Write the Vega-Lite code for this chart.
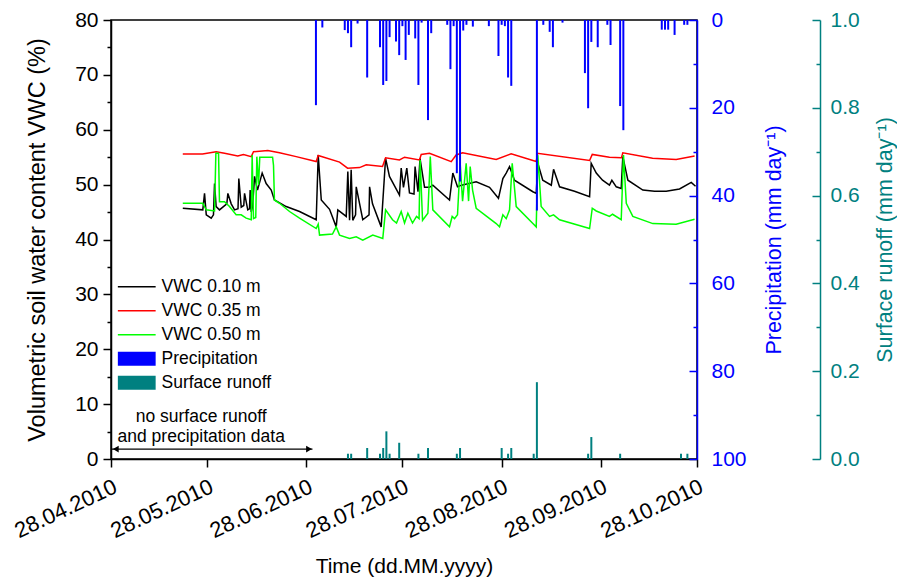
{
  "$schema": "https://vega.github.io/schema/vega-lite/v6.json",
  "width": 586,
  "height": 439,
  "autosize": {"type": "none"},
  "padding": {"left": 111, "top": 20, "right": 200, "bottom": 122},
  "background": "white",
  "config": {
    "font": "Liberation Sans",
    "view": {"stroke": "black", "strokeWidth": 1.5},
    "axis": {
      "grid": false,
      "labelFont": "Liberation Sans",
      "titleFont": "Liberation Sans",
      "labelFontSize": 21,
      "titleFontSize": 22,
      "titleFontWeight": "normal",
      "domainWidth": 1.5,
      "tickWidth": 1.5,
      "domainColor": "black",
      "tickColor": "black",
      "labelColor": "black",
      "titleColor": "black"
    }
  },
  "datasets": {
    "vwc": [
      {"t": "2010-05-20T10:00Z", "s": "VWC 0.10 m", "v": 45.7},
      {"t": "2010-05-26T16:00Z", "s": "VWC 0.10 m", "v": 45.4},
      {"t": "2010-05-27T05:00Z", "s": "VWC 0.10 m", "v": 48.4},
      {"t": "2010-05-27T18:00Z", "s": "VWC 0.10 m", "v": 44.5},
      {"t": "2010-05-29T07:00Z", "s": "VWC 0.10 m", "v": 43.9},
      {"t": "2010-05-30T00:00Z", "s": "VWC 0.10 m", "v": 44.5},
      {"t": "2010-05-30T08:00Z", "s": "VWC 0.10 m", "v": 50.2},
      {"t": "2010-05-30T20:00Z", "s": "VWC 0.10 m", "v": 46.0},
      {"t": "2010-05-31T21:00Z", "s": "VWC 0.10 m", "v": 45.4},
      {"t": "2010-06-01T22:00Z", "s": "VWC 0.10 m", "v": 45.9},
      {"t": "2010-06-03T04:00Z", "s": "VWC 0.10 m", "v": 46.5},
      {"t": "2010-06-03T12:00Z", "s": "VWC 0.10 m", "v": 48.4},
      {"t": "2010-06-04T13:00Z", "s": "VWC 0.10 m", "v": 46.5},
      {"t": "2010-06-05T14:00Z", "s": "VWC 0.10 m", "v": 45.4},
      {"t": "2010-06-06T16:00Z", "s": "VWC 0.10 m", "v": 45.6},
      {"t": "2010-06-06T22:00Z", "s": "VWC 0.10 m", "v": 51.1},
      {"t": "2010-06-07T16:00Z", "s": "VWC 0.10 m", "v": 45.9},
      {"t": "2010-06-08T11:00Z", "s": "VWC 0.10 m", "v": 46.2},
      {"t": "2010-06-08T17:00Z", "s": "VWC 0.10 m", "v": 48.4},
      {"t": "2010-06-09T17:00Z", "s": "VWC 0.10 m", "v": 45.4},
      {"t": "2010-06-10T06:00Z", "s": "VWC 0.10 m", "v": 45.6},
      {"t": "2010-06-10T11:00Z", "s": "VWC 0.10 m", "v": 49.0},
      {"t": "2010-06-10T19:00Z", "s": "VWC 0.10 m", "v": 45.0},
      {"t": "2010-06-11T05:00Z", "s": "VWC 0.10 m", "v": 46.0},
      {"t": "2010-06-11T20:00Z", "s": "VWC 0.10 m", "v": 51.5},
      {"t": "2010-06-12T18:00Z", "s": "VWC 0.10 m", "v": 49.0},
      {"t": "2010-06-14T05:00Z", "s": "VWC 0.10 m", "v": 52.1},
      {"t": "2010-06-15T11:00Z", "s": "VWC 0.10 m", "v": 50.2},
      {"t": "2010-06-17T01:00Z", "s": "VWC 0.10 m", "v": 49.0},
      {"t": "2010-06-18T01:00Z", "s": "VWC 0.10 m", "v": 47.2},
      {"t": "2010-06-21T17:00Z", "s": "VWC 0.10 m", "v": 46.0},
      {"t": "2010-06-25T21:00Z", "s": "VWC 0.10 m", "v": 45.1},
      {"t": "2010-07-01T02:00Z", "s": "VWC 0.10 m", "v": 43.6},
      {"t": "2010-07-01T17:00Z", "s": "VWC 0.10 m", "v": 55.4},
      {"t": "2010-07-02T16:00Z", "s": "VWC 0.10 m", "v": 47.2},
      {"t": "2010-07-05T06:00Z", "s": "VWC 0.10 m", "v": 45.5},
      {"t": "2010-07-07T08:00Z", "s": "VWC 0.10 m", "v": 42.3},
      {"t": "2010-07-07T20:00Z", "s": "VWC 0.10 m", "v": 45.4},
      {"t": "2010-07-10T11:00Z", "s": "VWC 0.10 m", "v": 44.2},
      {"t": "2010-07-10T23:00Z", "s": "VWC 0.10 m", "v": 52.4},
      {"t": "2010-07-11T12:00Z", "s": "VWC 0.10 m", "v": 43.5},
      {"t": "2010-07-12T00:00Z", "s": "VWC 0.10 m", "v": 52.7},
      {"t": "2010-07-12T12:00Z", "s": "VWC 0.10 m", "v": 43.5},
      {"t": "2010-07-13T09:00Z", "s": "VWC 0.10 m", "v": 44.5},
      {"t": "2010-07-13T14:00Z", "s": "VWC 0.10 m", "v": 49.6},
      {"t": "2010-07-15T15:00Z", "s": "VWC 0.10 m", "v": 43.6},
      {"t": "2010-07-17T14:00Z", "s": "VWC 0.10 m", "v": 44.5},
      {"t": "2010-07-17T18:00Z", "s": "VWC 0.10 m", "v": 49.6},
      {"t": "2010-07-18T16:00Z", "s": "VWC 0.10 m", "v": 46.5},
      {"t": "2010-07-21T09:00Z", "s": "VWC 0.10 m", "v": 42.3},
      {"t": "2010-07-22T18:00Z", "s": "VWC 0.10 m", "v": 54.8},
      {"t": "2010-07-23T23:00Z", "s": "VWC 0.10 m", "v": 51.5},
      {"t": "2010-07-27T02:00Z", "s": "VWC 0.10 m", "v": 48.1},
      {"t": "2010-07-27T15:00Z", "s": "VWC 0.10 m", "v": 53.0},
      {"t": "2010-07-28T08:00Z", "s": "VWC 0.10 m", "v": 49.5},
      {"t": "2010-07-29T09:00Z", "s": "VWC 0.10 m", "v": 53.0},
      {"t": "2010-07-30T05:00Z", "s": "VWC 0.10 m", "v": 48.5},
      {"t": "2010-07-31T15:00Z", "s": "VWC 0.10 m", "v": 48.3},
      {"t": "2010-07-31T23:00Z", "s": "VWC 0.10 m", "v": 53.3},
      {"t": "2010-08-01T21:00Z", "s": "VWC 0.10 m", "v": 48.7},
      {"t": "2010-08-02T12:00Z", "s": "VWC 0.10 m", "v": 54.8},
      {"t": "2010-08-03T22:00Z", "s": "VWC 0.10 m", "v": 49.5},
      {"t": "2010-08-05T11:00Z", "s": "VWC 0.10 m", "v": 49.5},
      {"t": "2010-08-06T12:00Z", "s": "VWC 0.10 m", "v": 49.9},
      {"t": "2010-08-11T17:00Z", "s": "VWC 0.10 m", "v": 47.2},
      {"t": "2010-08-12T18:00Z", "s": "VWC 0.10 m", "v": 52.1},
      {"t": "2010-08-14T05:00Z", "s": "VWC 0.10 m", "v": 49.6},
      {"t": "2010-08-15T11:00Z", "s": "VWC 0.10 m", "v": 49.9},
      {"t": "2010-08-20T01:00Z", "s": "VWC 0.10 m", "v": 50.5},
      {"t": "2010-08-24T05:00Z", "s": "VWC 0.10 m", "v": 49.5},
      {"t": "2010-08-27T00:00Z", "s": "VWC 0.10 m", "v": 47.5},
      {"t": "2010-08-28T09:00Z", "s": "VWC 0.10 m", "v": 51.1},
      {"t": "2010-08-29T10:00Z", "s": "VWC 0.10 m", "v": 52.1},
      {"t": "2010-08-30T11:00Z", "s": "VWC 0.10 m", "v": 53.3},
      {"t": "2010-09-01T00:00Z", "s": "VWC 0.10 m", "v": 50.8},
      {"t": "2010-09-06T18:00Z", "s": "VWC 0.10 m", "v": 48.7},
      {"t": "2010-09-07T19:00Z", "s": "VWC 0.10 m", "v": 48.4},
      {"t": "2010-09-08T07:00Z", "s": "VWC 0.10 m", "v": 53.9},
      {"t": "2010-09-09T20:00Z", "s": "VWC 0.10 m", "v": 50.8},
      {"t": "2010-09-12T12:00Z", "s": "VWC 0.10 m", "v": 49.9},
      {"t": "2010-09-13T05:00Z", "s": "VWC 0.10 m", "v": 52.8},
      {"t": "2010-09-15T02:00Z", "s": "VWC 0.10 m", "v": 49.6},
      {"t": "2010-09-19T18:00Z", "s": "VWC 0.10 m", "v": 48.8},
      {"t": "2010-09-24T11:00Z", "s": "VWC 0.10 m", "v": 47.8},
      {"t": "2010-09-24T23:00Z", "s": "VWC 0.10 m", "v": 53.9},
      {"t": "2010-09-26T13:00Z", "s": "VWC 0.10 m", "v": 52.1},
      {"t": "2010-09-28T12:00Z", "s": "VWC 0.10 m", "v": 50.8},
      {"t": "2010-09-30T16:00Z", "s": "VWC 0.10 m", "v": 49.9},
      {"t": "2010-10-01T10:00Z", "s": "VWC 0.10 m", "v": 50.8},
      {"t": "2010-10-02T19:00Z", "s": "VWC 0.10 m", "v": 49.6},
      {"t": "2010-10-04T08:00Z", "s": "VWC 0.10 m", "v": 49.3},
      {"t": "2010-10-04T20:00Z", "s": "VWC 0.10 m", "v": 55.1},
      {"t": "2010-10-06T10:00Z", "s": "VWC 0.10 m", "v": 50.8},
      {"t": "2010-10-11T02:00Z", "s": "VWC 0.10 m", "v": 49.0},
      {"t": "2010-10-14T18:00Z", "s": "VWC 0.10 m", "v": 48.8},
      {"t": "2010-10-18T09:00Z", "s": "VWC 0.10 m", "v": 48.8},
      {"t": "2010-10-22T13:00Z", "s": "VWC 0.10 m", "v": 49.2},
      {"t": "2010-10-26T05:00Z", "s": "VWC 0.10 m", "v": 50.4},
      {"t": "2010-10-27T13:00Z", "s": "VWC 0.10 m", "v": 49.7},

      {"t": "2010-05-20T10:00Z", "s": "VWC 0.35 m", "v": 55.6},
      {"t": "2010-05-26T14:00Z", "s": "VWC 0.35 m", "v": 55.6},
      {"t": "2010-05-30T20:00Z", "s": "VWC 0.35 m", "v": 56.0},
      {"t": "2010-06-02T11:00Z", "s": "VWC 0.35 m", "v": 55.7},
      {"t": "2010-06-06T14:00Z", "s": "VWC 0.35 m", "v": 55.2},
      {"t": "2010-06-08T09:00Z", "s": "VWC 0.35 m", "v": 55.5},
      {"t": "2010-06-10T19:00Z", "s": "VWC 0.35 m", "v": 55.1},
      {"t": "2010-06-11T12:00Z", "s": "VWC 0.35 m", "v": 56.0},
      {"t": "2010-06-15T23:00Z", "s": "VWC 0.35 m", "v": 56.2},
      {"t": "2010-06-19T15:00Z", "s": "VWC 0.35 m", "v": 55.8},
      {"t": "2010-06-24T20:00Z", "s": "VWC 0.35 m", "v": 55.1},
      {"t": "2010-07-01T02:00Z", "s": "VWC 0.35 m", "v": 54.2},
      {"t": "2010-07-01T17:00Z", "s": "VWC 0.35 m", "v": 55.3},
      {"t": "2010-07-08T09:00Z", "s": "VWC 0.35 m", "v": 54.1},
      {"t": "2010-07-10T21:00Z", "s": "VWC 0.35 m", "v": 53.0},
      {"t": "2010-07-14T15:00Z", "s": "VWC 0.35 m", "v": 53.1},
      {"t": "2010-07-16T17:00Z", "s": "VWC 0.35 m", "v": 53.6},
      {"t": "2010-07-21T19:00Z", "s": "VWC 0.35 m", "v": 53.3},
      {"t": "2010-07-22T18:00Z", "s": "VWC 0.35 m", "v": 54.9},
      {"t": "2010-07-27T02:00Z", "s": "VWC 0.35 m", "v": 54.5},
      {"t": "2010-07-28T16:00Z", "s": "VWC 0.35 m", "v": 55.0},
      {"t": "2010-08-02T08:00Z", "s": "VWC 0.35 m", "v": 54.5},
      {"t": "2010-08-02T21:00Z", "s": "VWC 0.35 m", "v": 55.5},
      {"t": "2010-08-05T11:00Z", "s": "VWC 0.35 m", "v": 55.7},
      {"t": "2010-08-12T06:00Z", "s": "VWC 0.35 m", "v": 54.2},
      {"t": "2010-08-13T19:00Z", "s": "VWC 0.35 m", "v": 55.4},
      {"t": "2010-08-15T19:00Z", "s": "VWC 0.35 m", "v": 55.8},
      {"t": "2010-08-26T07:00Z", "s": "VWC 0.35 m", "v": 54.6},
      {"t": "2010-08-30T23:00Z", "s": "VWC 0.35 m", "v": 55.6},
      {"t": "2010-09-07T19:00Z", "s": "VWC 0.35 m", "v": 54.2},
      {"t": "2010-09-08T05:00Z", "s": "VWC 0.35 m", "v": 55.7},
      {"t": "2010-09-24T11:00Z", "s": "VWC 0.35 m", "v": 54.4},
      {"t": "2010-09-25T07:00Z", "s": "VWC 0.35 m", "v": 55.5},
      {"t": "2010-09-30T16:00Z", "s": "VWC 0.35 m", "v": 55.0},
      {"t": "2010-10-04T10:00Z", "s": "VWC 0.35 m", "v": 54.9},
      {"t": "2010-10-04T20:00Z", "s": "VWC 0.35 m", "v": 55.8},
      {"t": "2010-10-14T03:00Z", "s": "VWC 0.35 m", "v": 54.8},
      {"t": "2010-10-21T12:00Z", "s": "VWC 0.35 m", "v": 54.6},
      {"t": "2010-10-27T06:00Z", "s": "VWC 0.35 m", "v": 55.2},

      {"t": "2010-05-20T10:00Z", "s": "VWC 0.50 m", "v": 46.6},
      {"t": "2010-05-26T16:00Z", "s": "VWC 0.50 m", "v": 46.6},
      {"t": "2010-05-27T18:00Z", "s": "VWC 0.50 m", "v": 45.4},
      {"t": "2010-05-30T08:00Z", "s": "VWC 0.50 m", "v": 45.2},
      {"t": "2010-05-30T18:00Z", "s": "VWC 0.50 m", "v": 55.7},
      {"t": "2010-05-31T14:00Z", "s": "VWC 0.50 m", "v": 55.7},
      {"t": "2010-05-31T21:00Z", "s": "VWC 0.50 m", "v": 46.9},
      {"t": "2010-06-02T11:00Z", "s": "VWC 0.50 m", "v": 46.9},
      {"t": "2010-06-04T00:00Z", "s": "VWC 0.50 m", "v": 46.0},
      {"t": "2010-06-06T02:00Z", "s": "VWC 0.50 m", "v": 44.5},
      {"t": "2010-06-07T16:00Z", "s": "VWC 0.50 m", "v": 44.5},
      {"t": "2010-06-09T05:00Z", "s": "VWC 0.50 m", "v": 43.9},
      {"t": "2010-06-10T19:00Z", "s": "VWC 0.50 m", "v": 43.6},
      {"t": "2010-06-11T02:00Z", "s": "VWC 0.50 m", "v": 55.4},
      {"t": "2010-06-11T12:00Z", "s": "VWC 0.50 m", "v": 43.8},
      {"t": "2010-06-12T05:00Z", "s": "VWC 0.50 m", "v": 44.0},
      {"t": "2010-06-12T13:00Z", "s": "VWC 0.50 m", "v": 55.1},
      {"t": "2010-06-13T02:00Z", "s": "VWC 0.50 m", "v": 50.0},
      {"t": "2010-06-13T11:00Z", "s": "VWC 0.50 m", "v": 55.0},
      {"t": "2010-06-17T11:00Z", "s": "VWC 0.50 m", "v": 55.0},
      {"t": "2010-06-17T18:00Z", "s": "VWC 0.50 m", "v": 53.5},
      {"t": "2010-06-18T01:00Z", "s": "VWC 0.50 m", "v": 47.2},
      {"t": "2010-06-19T15:00Z", "s": "VWC 0.50 m", "v": 46.6},
      {"t": "2010-06-22T18:00Z", "s": "VWC 0.50 m", "v": 45.1},
      {"t": "2010-06-25T21:00Z", "s": "VWC 0.50 m", "v": 43.9},
      {"t": "2010-07-01T02:00Z", "s": "VWC 0.50 m", "v": 42.0},
      {"t": "2010-07-01T17:00Z", "s": "VWC 0.50 m", "v": 42.8},
      {"t": "2010-07-02T03:00Z", "s": "VWC 0.50 m", "v": 40.8},
      {"t": "2010-07-06T04:00Z", "s": "VWC 0.50 m", "v": 41.0},
      {"t": "2010-07-07T08:00Z", "s": "VWC 0.50 m", "v": 42.3},
      {"t": "2010-07-08T09:00Z", "s": "VWC 0.50 m", "v": 40.8},
      {"t": "2010-07-11T12:00Z", "s": "VWC 0.50 m", "v": 40.2},
      {"t": "2010-07-13T14:00Z", "s": "VWC 0.50 m", "v": 40.5},
      {"t": "2010-07-15T15:00Z", "s": "VWC 0.50 m", "v": 39.9},
      {"t": "2010-07-18T18:00Z", "s": "VWC 0.50 m", "v": 40.8},
      {"t": "2010-07-21T21:00Z", "s": "VWC 0.50 m", "v": 40.2},
      {"t": "2010-07-22T18:00Z", "s": "VWC 0.50 m", "v": 45.4},
      {"t": "2010-07-24T22:00Z", "s": "VWC 0.50 m", "v": 43.6},
      {"t": "2010-07-26T04:00Z", "s": "VWC 0.50 m", "v": 43.0},
      {"t": "2010-07-27T15:00Z", "s": "VWC 0.50 m", "v": 45.1},
      {"t": "2010-07-28T16:00Z", "s": "VWC 0.50 m", "v": 43.0},
      {"t": "2010-07-29T17:00Z", "s": "VWC 0.50 m", "v": 44.8},
      {"t": "2010-07-31T04:00Z", "s": "VWC 0.50 m", "v": 43.0},
      {"t": "2010-08-01T10:00Z", "s": "VWC 0.50 m", "v": 44.2},
      {"t": "2010-08-02T05:00Z", "s": "VWC 0.50 m", "v": 43.8},
      {"t": "2010-08-02T13:00Z", "s": "VWC 0.50 m", "v": 54.5},
      {"t": "2010-08-03T07:00Z", "s": "VWC 0.50 m", "v": 43.5},
      {"t": "2010-08-04T23:00Z", "s": "VWC 0.50 m", "v": 44.8},
      {"t": "2010-08-05T17:00Z", "s": "VWC 0.50 m", "v": 55.1},
      {"t": "2010-08-06T12:00Z", "s": "VWC 0.50 m", "v": 45.4},
      {"t": "2010-08-11T17:00Z", "s": "VWC 0.50 m", "v": 42.3},
      {"t": "2010-08-12T13:00Z", "s": "VWC 0.50 m", "v": 44.2},
      {"t": "2010-08-13T07:00Z", "s": "VWC 0.50 m", "v": 43.8},
      {"t": "2010-08-14T05:00Z", "s": "VWC 0.50 m", "v": 44.5},
      {"t": "2010-08-15T01:00Z", "s": "VWC 0.50 m", "v": 53.9},
      {"t": "2010-08-15T19:00Z", "s": "VWC 0.50 m", "v": 47.0},
      {"t": "2010-08-16T22:00Z", "s": "VWC 0.50 m", "v": 53.9},
      {"t": "2010-08-17T16:00Z", "s": "VWC 0.50 m", "v": 47.0},
      {"t": "2010-08-18T04:00Z", "s": "VWC 0.50 m", "v": 53.3},
      {"t": "2010-08-18T22:00Z", "s": "VWC 0.50 m", "v": 49.0},
      {"t": "2010-08-20T01:00Z", "s": "VWC 0.50 m", "v": 45.7},
      {"t": "2010-08-26T07:00Z", "s": "VWC 0.50 m", "v": 42.9},
      {"t": "2010-08-27T08:00Z", "s": "VWC 0.50 m", "v": 42.3},
      {"t": "2010-08-28T09:00Z", "s": "VWC 0.50 m", "v": 44.5},
      {"t": "2010-08-29T10:00Z", "s": "VWC 0.50 m", "v": 43.8},
      {"t": "2010-08-30T11:00Z", "s": "VWC 0.50 m", "v": 45.4},
      {"t": "2010-08-31T07:00Z", "s": "VWC 0.50 m", "v": 53.9},
      {"t": "2010-09-01T13:00Z", "s": "VWC 0.50 m", "v": 46.0},
      {"t": "2010-09-06T18:00Z", "s": "VWC 0.50 m", "v": 42.9},
      {"t": "2010-09-07T19:00Z", "s": "VWC 0.50 m", "v": 42.3},
      {"t": "2010-09-08T07:00Z", "s": "VWC 0.50 m", "v": 55.4},
      {"t": "2010-09-09T08:00Z", "s": "VWC 0.50 m", "v": 46.0},
      {"t": "2010-09-11T23:00Z", "s": "VWC 0.50 m", "v": 44.2},
      {"t": "2010-09-13T05:00Z", "s": "VWC 0.50 m", "v": 44.5},
      {"t": "2010-09-15T02:00Z", "s": "VWC 0.50 m", "v": 43.6},
      {"t": "2010-09-24T11:00Z", "s": "VWC 0.50 m", "v": 42.0},
      {"t": "2010-09-25T07:00Z", "s": "VWC 0.50 m", "v": 45.7},
      {"t": "2010-09-26T13:00Z", "s": "VWC 0.50 m", "v": 45.2},
      {"t": "2010-09-30T16:00Z", "s": "VWC 0.50 m", "v": 44.2},
      {"t": "2010-10-01T15:00Z", "s": "VWC 0.50 m", "v": 44.6},
      {"t": "2010-10-04T08:00Z", "s": "VWC 0.50 m", "v": 43.6},
      {"t": "2010-10-05T01:00Z", "s": "VWC 0.50 m", "v": 55.4},
      {"t": "2010-10-05T22:00Z", "s": "VWC 0.50 m", "v": 46.6},
      {"t": "2010-10-07T23:00Z", "s": "VWC 0.50 m", "v": 44.2},
      {"t": "2010-10-14T05:00Z", "s": "VWC 0.50 m", "v": 42.9},
      {"t": "2010-10-21T12:00Z", "s": "VWC 0.50 m", "v": 42.8},
      {"t": "2010-10-27T06:00Z", "s": "VWC 0.50 m", "v": 43.7}
    ],
    "precip": [
      {"t": "2010-07-01T00:00Z", "p": 19.4},
      {"t": "2010-07-03T00:00Z", "p": 1.7},
      {"t": "2010-07-10T00:00Z", "p": 2.3},
      {"t": "2010-07-11T00:00Z", "p": 3.0},
      {"t": "2010-07-12T00:00Z", "p": 6.2},
      {"t": "2010-07-14T00:00Z", "p": 0.8},
      {"t": "2010-07-17T00:00Z", "p": 13.1},
      {"t": "2010-07-21T00:00Z", "p": 6.2},
      {"t": "2010-07-22T00:00Z", "p": 14.8},
      {"t": "2010-07-23T00:00Z", "p": 13.9},
      {"t": "2010-07-24T00:00Z", "p": 3.9},
      {"t": "2010-07-26T00:00Z", "p": 4.9},
      {"t": "2010-07-27T00:00Z", "p": 8.0},
      {"t": "2010-07-28T00:00Z", "p": 1.4},
      {"t": "2010-07-29T00:00Z", "p": 9.1},
      {"t": "2010-07-30T00:00Z", "p": 3.4},
      {"t": "2010-08-01T00:00Z", "p": 4.2},
      {"t": "2010-08-02T00:00Z", "p": 14.8},
      {"t": "2010-08-03T00:00Z", "p": 0.6},
      {"t": "2010-08-05T00:00Z", "p": 22.8},
      {"t": "2010-08-06T00:00Z", "p": 3.0},
      {"t": "2010-08-11T00:00Z", "p": 1.1},
      {"t": "2010-08-12T00:00Z", "p": 11.2},
      {"t": "2010-08-13T00:00Z", "p": 1.4},
      {"t": "2010-08-14T00:00Z", "p": 34.9},
      {"t": "2010-08-15T00:00Z", "p": 36.8},
      {"t": "2010-08-16T00:00Z", "p": 2.4},
      {"t": "2010-08-17T00:00Z", "p": 1.1},
      {"t": "2010-08-19T00:00Z", "p": 1.5},
      {"t": "2010-08-24T00:00Z", "p": 1.4},
      {"t": "2010-08-27T00:00Z", "p": 8.2},
      {"t": "2010-08-28T00:00Z", "p": 1.1},
      {"t": "2010-08-29T00:00Z", "p": 1.4},
      {"t": "2010-08-30T00:00Z", "p": 13.1},
      {"t": "2010-08-31T00:00Z", "p": 15.0},
      {"t": "2010-09-08T00:00Z", "p": 43.4},
      {"t": "2010-09-10T00:00Z", "p": 1.1},
      {"t": "2010-09-12T00:00Z", "p": 2.7},
      {"t": "2010-09-13T00:00Z", "p": 6.2},
      {"t": "2010-09-16T00:00Z", "p": 0.6},
      {"t": "2010-09-23T00:00Z", "p": 12.1},
      {"t": "2010-09-24T00:00Z", "p": 20.1},
      {"t": "2010-09-25T00:00Z", "p": 5.0},
      {"t": "2010-09-27T00:00Z", "p": 6.2},
      {"t": "2010-09-30T00:00Z", "p": 1.1},
      {"t": "2010-10-01T00:00Z", "p": 5.7},
      {"t": "2010-10-04T00:00Z", "p": 19.6},
      {"t": "2010-10-05T00:00Z", "p": 25.1},
      {"t": "2010-10-17T00:00Z", "p": 2.2},
      {"t": "2010-10-18T00:00Z", "p": 2.2},
      {"t": "2010-10-19T00:00Z", "p": 2.2},
      {"t": "2010-10-21T00:00Z", "p": 3.4},
      {"t": "2010-10-24T00:00Z", "p": 1.1},
      {"t": "2010-10-25T00:00Z", "p": 1.1}
    ],
    "runoff": [
      {"t": "2010-07-11T00:00Z", "r": 0.012},
      {"t": "2010-07-12T00:00Z", "r": 0.012},
      {"t": "2010-07-17T00:00Z", "r": 0.025},
      {"t": "2010-07-21T00:00Z", "r": 0.012},
      {"t": "2010-07-22T00:00Z", "r": 0.025},
      {"t": "2010-07-23T00:00Z", "r": 0.063},
      {"t": "2010-07-24T00:00Z", "r": 0.012},
      {"t": "2010-07-27T00:00Z", "r": 0.037},
      {"t": "2010-08-02T00:00Z", "r": 0.012},
      {"t": "2010-08-05T00:00Z", "r": 0.025},
      {"t": "2010-08-14T00:00Z", "r": 0.012},
      {"t": "2010-08-15T00:00Z", "r": 0.025},
      {"t": "2010-08-28T00:00Z", "r": 0.025},
      {"t": "2010-08-30T00:00Z", "r": 0.012},
      {"t": "2010-08-31T00:00Z", "r": 0.025},
      {"t": "2010-09-07T00:00Z", "r": 0.012},
      {"t": "2010-09-08T00:00Z", "r": 0.175},
      {"t": "2010-09-24T00:00Z", "r": 0.012},
      {"t": "2010-09-25T00:00Z", "r": 0.05},
      {"t": "2010-10-04T00:00Z", "r": 0.012},
      {"t": "2010-10-23T00:00Z", "r": 0.012},
      {"t": "2010-10-25T00:00Z", "r": 0.012}
    ],
    "span": [
      {"t": "2010-04-28T07:00Z", "t2": "2010-06-29T22:00Z", "v": 1.8}
    ],
    "spanStart": [{"t": "2010-04-29T12:00Z", "v": 1.8}],
    "spanEnd": [{"t": "2010-06-28T20:00Z", "v": 1.8}],
    "note": [
      {"t": "2010-05-26T04:00Z", "v": 7.7, "label": "no surface runoff"},
      {"t": "2010-05-26T04:00Z", "v": 4.0, "label": "and precipitation data"}
    ]
  },
  "layer": [
    {
      "encoding": {
        "x": {
          "field": "t",
          "type": "temporal",
          "scale": {
            "type": "utc",
            "nice": false,
            "padding": 0,
            "domain": [
              {"year": 2010, "month": 4, "date": 28, "utc": true},
              {"year": 2010, "month": 10, "date": 28, "utc": true}
            ]
          },
          "axis": {
            "title": "Time (dd.MM.yyyy)",
            "titleFontSize": 21,
            "format": "%d.%m.%Y",
            "values": [
              {"year": 2010, "month": 4, "date": 28, "utc": true},
              {"year": 2010, "month": 5, "date": 28, "utc": true},
              {"year": 2010, "month": 6, "date": 28, "utc": true},
              {"year": 2010, "month": 7, "date": 28, "utc": true},
              {"year": 2010, "month": 8, "date": 28, "utc": true},
              {"year": 2010, "month": 9, "date": 28, "utc": true},
              {"year": 2010, "month": 10, "date": 28, "utc": true}
            ],
            "labelAngle": -25,
            "labelFontSize": 22,
            "tickSize": 8,
            "labelPadding": 9,
            "titlePadding": 14,
            "labelFlush": false,
            "labelOverlap": false
          }
        },
        "y": {
          "field": "v",
          "type": "quantitative",
          "scale": {"domain": [0, 80], "nice": false},
          "axis": {
            "orient": "left",
            "title": "Volumetric soil water content VWC (%)",
            "titleFontSize": 23.5,
            "values": [0, 5, 10, 15, 20, 25, 30, 35, 40, 45, 50, 55, 60, 65, 70, 75, 80],
            "labelExpr": "datum.value % 10 === 0 ? datum.label : ''",
            "tickSize": {"condition": {"test": "datum.value % 10 === 0", "value": 8}, "value": 4},
            "labelPadding": 5,
            "titlePadding": 25,
            "labelFlush": false,
            "labelOverlap": false
          }
        }
      },
      "layer": [
        {
          "data": {"name": "vwc"},
          "mark": {"type": "line", "strokeWidth": 1.5, "interpolate": "linear"},
          "encoding": {
            "color": {
              "field": "s",
              "type": "nominal",
              "scale": {
                "domain": ["VWC 0.10 m", "VWC 0.35 m", "VWC 0.50 m", "Precipitation", "Surface runoff"],
                "range": ["#000000", "#ff0000", "#00ff00", "#0000ff", "#008080"]
              },
              "legend": {
                "orient": "none",
                "legendX": 17,
                "legendY": 258,
                "title": null,
                "padding": 0,
                "labelFont": "Liberation Sans",
                "labelFontSize": 17.5,
                "labelColor": "black",
                "labelOffset": 16,
                "symbolSize": 196,
                "symbolStrokeWidth": 1.5,
                "rowPadding": 5,
                "encode": {
                  "symbols": {
                    "update": {
                      "shape": {"signal": "indexof(['Precipitation', 'Surface runoff'], datum.value) < 0 ? 'M-2.7,0H2.7' : 'M-2.7,-1H2.7V1H-2.7Z'"},
                      "fill": {"signal": "datum.value === 'Precipitation' ? '#0000ff' : datum.value === 'Surface runoff' ? '#008080' : 'transparent'"},
                      "stroke": {"scale": "color", "field": "value"},
                      "strokeWidth": {"signal": "indexof(['Precipitation', 'Surface runoff'], datum.value) < 0 ? 1.5 : 0"},
                      "opacity": {"value": 1}
                    }
                  }
                }
              }
            }
          }
        },
        {
          "data": {"name": "span"},
          "mark": {"type": "rule", "color": "black", "strokeWidth": 1.2},
          "encoding": {"x2": {"field": "t2"}}
        },
        {
          "data": {"name": "spanStart"},
          "mark": {"type": "point", "shape": "triangle-left", "filled": true, "color": "black", "size": 45, "opacity": 1}
        },
        {
          "data": {"name": "spanEnd"},
          "mark": {"type": "point", "shape": "triangle-right", "filled": true, "color": "black", "size": 45, "opacity": 1}
        },
        {
          "data": {"name": "note"},
          "mark": {"type": "text", "font": "Liberation Sans", "fontSize": 17.5, "color": "black", "align": "center", "baseline": "middle"},
          "encoding": {"text": {"field": "label"}}
        }
      ]
    },
    {
      "data": {"name": "precip"},
      "mark": {"type": "bar", "color": "#0000ff", "size": 2},
      "encoding": {
        "x": {
          "field": "t",
          "type": "temporal",
          "scale": {
            "type": "utc",
            "nice": false,
            "padding": 0,
            "domain": [
              {"year": 2010, "month": 4, "date": 28, "utc": true},
              {"year": 2010, "month": 10, "date": 28, "utc": true}
            ]
          }
        },
        "y": {
          "field": "p",
          "type": "quantitative",
          "scale": {"domain": [0, 100], "reverse": true, "nice": false},
          "axis": {
            "orient": "right",
            "title": "Precipitation (mm day⁻¹)",
            "titleFontSize": 21.5,
            "values": [0, 10, 20, 30, 40, 50, 60, 70, 80, 90, 100],
            "labelExpr": "datum.value % 20 === 0 ? datum.label : ''",
            "tickSize": {"condition": {"test": "datum.value % 20 === 0", "value": -8}, "value": -4},
            "labelPadding": 22,
            "domainColor": "#0000ff",
            "tickColor": "#0000ff",
            "labelColor": "#0000ff",
            "titleColor": "#0000ff",
            "titleAngle": 270,
            "titleBaseline": "top",
            "titlePadding": 17,
            "labelFlush": false,
            "labelOverlap": false
          }
        }
      }
    },
    {
      "data": {"name": "runoff"},
      "mark": {"type": "bar", "color": "#008080", "size": 2},
      "encoding": {
        "x": {
          "field": "t",
          "type": "temporal",
          "scale": {
            "type": "utc",
            "nice": false,
            "padding": 0,
            "domain": [
              {"year": 2010, "month": 4, "date": 28, "utc": true},
              {"year": 2010, "month": 10, "date": 28, "utc": true}
            ]
          }
        },
        "y": {
          "field": "r",
          "type": "quantitative",
          "scale": {"domain": [0, 1], "nice": false},
          "axis": {
            "orient": "right",
            "offset": 123,
            "title": "Surface runoff (mm day⁻¹)",
            "titleFontSize": 21.5,
            "values": [0, 0.1, 0.2, 0.3, 0.4, 0.5, 0.6, 0.7, 0.8, 0.9, 1],
            "labelExpr": "round(datum.value * 10) % 2 === 0 ? format(datum.value, '.1f') : ''",
            "tickSize": {"condition": {"test": "round(datum.value * 10) % 2 === 0", "value": -8}, "value": -4},
            "labelPadding": 18,
            "domainColor": "#008080",
            "tickColor": "#008080",
            "labelColor": "#008080",
            "titleColor": "#008080",
            "titleAngle": 270,
            "titleBaseline": "top",
            "titlePadding": 15,
            "labelFlush": false,
            "labelOverlap": false
          }
        }
      }
    }
  ],
  "resolve": {"scale": {"y": "independent"}}
}
